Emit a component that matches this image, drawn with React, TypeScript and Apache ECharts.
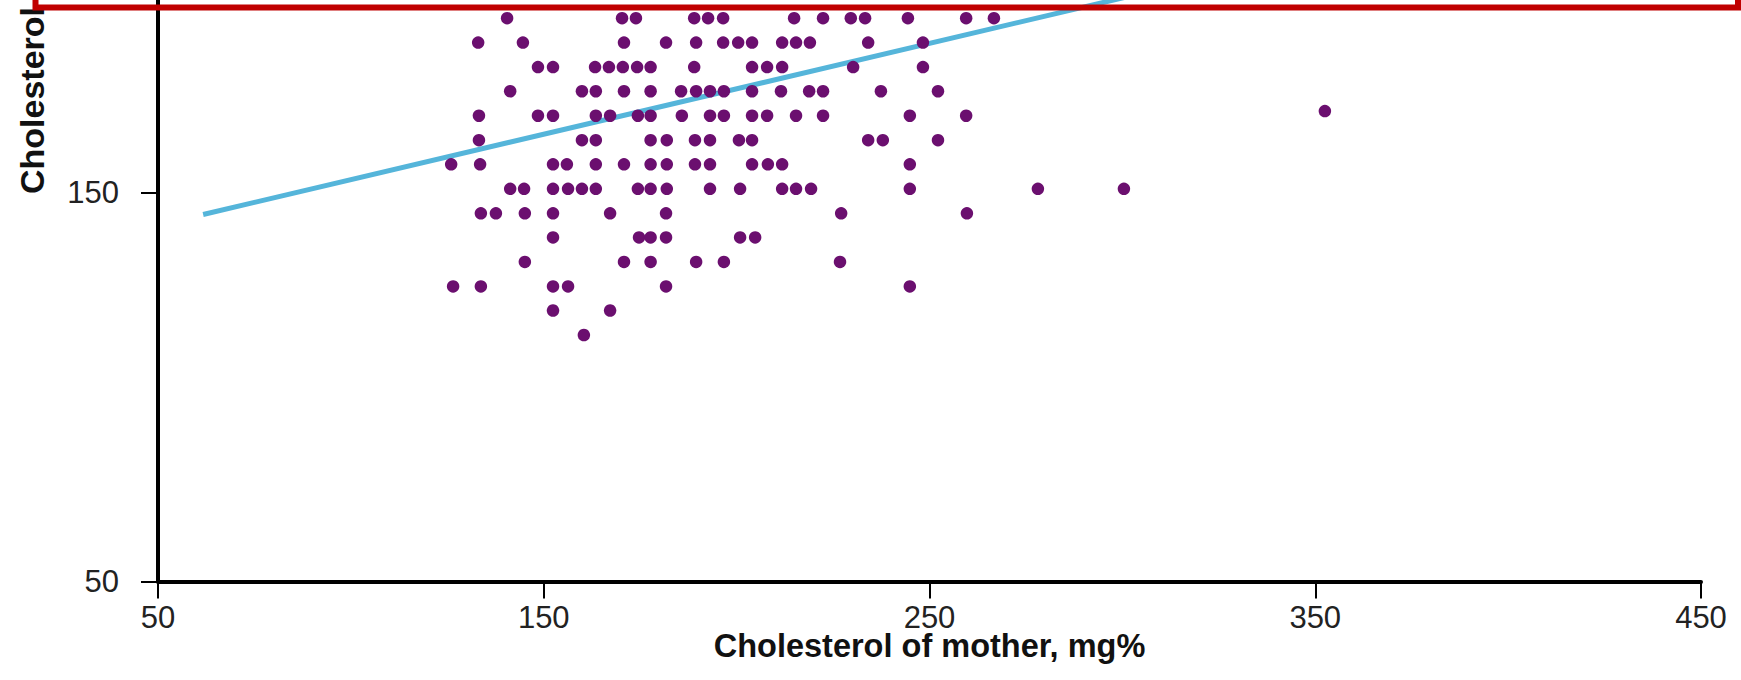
import React, { useEffect, useRef } from 'react';
import * as echarts from 'echarts';

// Axis ticks
const xTicks = [50, 150, 250, 350, 450];
const yTicks = [50, 150];

// Cholesterol of child (y) levels, one per row of dots, top to bottom
const childLevels = [194.9, 188.6, 182.3, 176.1, 169.8, 163.5, 157.3, 151.0, 144.7, 138.5, 132.2, 125.9, 119.7, 113.4];

// Cholesterol of mother (x) values for each child level above
const motherAtLevel0 = [140.5, 170.3, 173.9, 189.0, 192.6, 196.5, 214.9, 222.4, 229.6, 233.3, 244.4, 259.5, 266.7];
const motherAtLevel1 = [133.0, 144.6, 170.8, 181.7, 189.5, 196.5, 200.4, 204.0, 211.8, 215.4, 219.0, 234.1, 248.3];
const motherAtLevel2 = [148.5, 152.4, 163.3, 166.9, 170.5, 174.2, 177.7, 189.0, 204.0, 207.9, 211.8, 230.2, 248.3];
const motherAtLevel3 = [141.3, 159.9, 163.5, 170.8, 177.7, 185.6, 189.5, 193.1, 196.7, 204.0, 211.5, 218.8, 222.4, 237.4, 252.2];
const motherAtLevel4 = [133.2, 148.5, 152.4, 163.5, 167.2, 174.4, 177.7, 185.8, 193.1, 196.7, 204.0, 207.9, 215.4, 222.4, 244.9, 259.5];
const motherAtLevel5 = [133.2, 159.9, 163.5, 177.7, 181.9, 189.2, 193.1, 200.6, 204.0, 234.1, 237.9, 252.2];
const motherAtLevel6 = [126.0, 133.5, 152.4, 156.0, 163.5, 170.8, 177.7, 181.9, 189.2, 193.1, 204.0, 208.1, 211.8, 244.9];
const motherAtLevel7 = [141.3, 144.9, 152.4, 156.3, 159.9, 163.5, 174.4, 177.7, 181.9, 193.1, 200.9, 211.8, 215.4, 219.3, 244.9, 278.1, 300.4];
const motherAtLevel8 = [133.7, 137.6, 145.1, 152.4, 167.2, 181.7, 227.1, 259.7];
const motherAtLevel9 = [152.4, 174.7, 177.7, 181.7, 200.9, 204.8];
const motherAtLevel10 = [145.1, 170.8, 177.7, 189.5, 196.7, 226.8];
const motherAtLevel11 = [126.5, 133.7, 152.4, 156.3, 181.7, 244.9];
const motherAtLevel12 = [152.4, 167.2];
const motherAtLevel13 = [160.4];

const motherByLevel = [
  motherAtLevel0, motherAtLevel1, motherAtLevel2, motherAtLevel3, motherAtLevel4,
  motherAtLevel5, motherAtLevel6, motherAtLevel7, motherAtLevel8, motherAtLevel9,
  motherAtLevel10, motherAtLevel11, motherAtLevel12, motherAtLevel13,
];

// A lone outlier point (mother, child)
const outlierMother = [352.5];
const outlierChild = [171.0];

// Regression line end points (mother, child)
const fitMother = [61.7, 330];
const fitChild = [144.4, 207.1];

// Axis titles (the y title is cropped at the top in the source image)
const xTitle = 'Cholesterol of mother, mg%';
const yTitle = 'Cholesterol';

const FONT = '"Liberation Sans", Arial, Helvetica, sans-serif';

export default function App() {
  const ref = useRef<HTMLDivElement>(null);

  useEffect(() => {
    if (!ref.current) return;
    const chart = echarts.init(ref.current, null, { renderer: 'svg' });

    const points: number[][] = [];
    childLevels.forEach((c, i) => {
      motherByLevel[i].forEach((m) => points.push([m, c]));
    });
    outlierMother.forEach((m, i) => points.push([m, outlierChild[i]]));

    const fit = fitMother.map((m, i) => [m, fitChild[i]]);

    chart.setOption({
      animation: false,
      backgroundColor: '#ffffff',
      grid: {
        left: 158,
        right: 40,
        top: -1.7,
        bottom: 98.5,
        containLabel: false,
        outerBoundsMode: 'none',
      },
      xAxis: {
        type: 'value',
        min: xTicks[0],
        max: xTicks[xTicks.length - 1],
        interval: 100,
        name: xTitle,
        nameLocation: 'middle',
        nameGap: 51,
        nameMoveOverlap: false,
        nameTextStyle: { fontSize: 32.5, lineHeight: 26, fontWeight: 'bold', color: '#111', fontFamily: FONT },
        axisLine: { show: true, lineStyle: { color: '#000', width: 4 } },
        axisTick: { show: true, length: 17, lineStyle: { color: '#000', width: 2 }, customValues: xTicks },
        axisLabel: { margin: 24, lineHeight: 24, fontSize: 31, color: '#222', fontFamily: FONT, customValues: xTicks },
        splitLine: { show: false },
      },
      yAxis: {
        type: 'value',
        min: 50,
        max: 200,
        interval: 100,
        axisLine: { show: true, lineStyle: { color: '#000', width: 4 } },
        axisTick: { show: true, length: 17, lineStyle: { color: '#000', width: 2 }, customValues: yTicks },
        axisLabel: { margin: 39, fontSize: 31, color: '#222', fontFamily: FONT, customValues: yTicks },
        splitLine: { show: false },
      },
      graphic: [
        {
          type: 'text',
          x: 31.5,
          y: 194,
          rotation: Math.PI / 2,
          style: {
            text: yTitle,
            fontSize: 34,
            fontWeight: 'bold',
            fontFamily: FONT,
            fill: '#111',
            align: 'left',
            verticalAlign: 'middle',
          },
        },
        {
          type: 'rect',
          shape: { x: 35.5, y: -60, width: 1702.5, height: 67.5 },
          style: { fill: 'transparent', stroke: '#c00000', lineWidth: 6 },
          z: 100,
        },
      ],
      series: [
        {
          type: 'line',
          data: fit,
          showSymbol: false,
          symbol: 'none',
          lineStyle: { color: '#55b5da', width: 5 },
          z: 2,
        },
        {
          type: 'scatter',
          data: points,
          symbol: 'circle',
          symbolSize: 12.5,
          itemStyle: { color: '#6b0f6f', opacity: 1 },
          z: 3,
        },
      ],
    });

    return () => chart.dispose();
  }, []);

  return (
    <div
      ref={ref}
      style={{ position: 'absolute', left: 0, top: 0, width: 1741, height: 680, background: '#fff' }}
    />
  );
}
